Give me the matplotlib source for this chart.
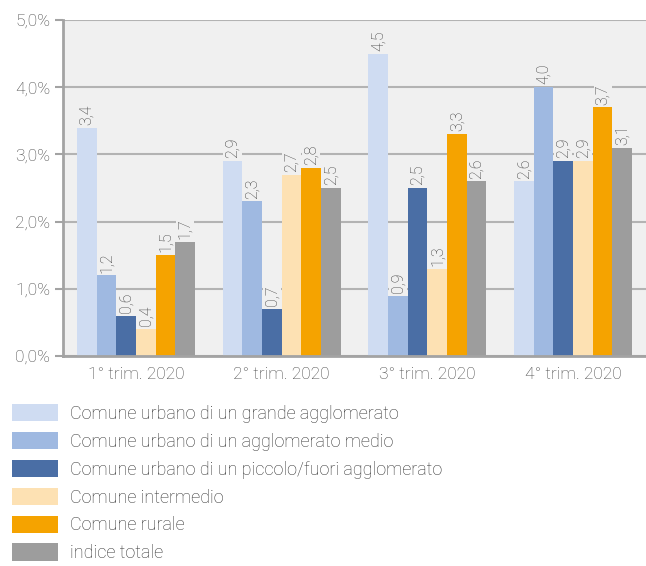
import matplotlib
matplotlib.use("Agg")
import matplotlib.pyplot as plt
from matplotlib.patches import Patch
import numpy as np

plt.rcParams['font.family'] = ['Roboto', 'DejaVu Sans']

trimestri = ["1° trim. 2020", "2° trim. 2020", "3° trim. 2020", "4° trim. 2020"]

serie = [
    "Comune urbano di un grande agglomerato",
    "Comune urbano di un agglomerato medio",
    "Comune urbano di un piccolo/fuori agglomerato",
    "Comune intermedio",
    "Comune rurale",
    "indice totale",
]

grande = [3.4, 2.9, 4.5, 2.6]
medio = [1.2, 2.3, 0.9, 4.0]
piccolo = [0.6, 0.7, 2.5, 2.9]
intermedio = [0.4, 2.7, 1.3, 2.9]
rurale = [1.5, 2.8, 3.3, 3.7]
totale = [1.7, 2.5, 2.6, 3.1]

valori = [grande, medio, piccolo, intermedio, rurale, totale]
colori = ["#cfdcf2", "#9fb9e1", "#4a6ea5", "#fde1b3", "#f5a300", "#9d9d9d"]

testo = "#444444"
griglia = "#b3b3b3"

fig = plt.figure(figsize=(6.46, 5.66), dpi=100)
ax = fig.add_axes([63/646, 1-356/566, 583/646, 336/566])
ax.set_facecolor("#f0f0f0")

x = np.arange(len(trimestri))
w = 0.135
for i, (vals, col) in enumerate(zip(valori, colori)):
    pos = x + (i - 2.5) * w
    ax.bar(pos, vals, width=w, color=col, zorder=3)
    for p, v in zip(pos, vals):
        ax.annotate(f"{v:.1f}".replace(".", ","), (p, v), xytext=(0, 2),
                    textcoords="offset points", rotation=90, ha="center", va="bottom",
                    fontsize=11.5, color="#3c3c3c", zorder=4, fontweight="light",
                    bbox=dict(boxstyle="square,pad=0.1", fc="#f0f0f0", ec="none"))

ax.set_xlim(-0.5, 3.5)
ax.set_ylim(0, 5)
ax.set_yticks([0, 1, 2, 3, 4, 5])
ax.set_yticklabels([f"{t:.1f}%".replace(".", ",") for t in range(6)])
ax.set_xticks(x)
ax.set_xticklabels(trimestri)
ax.yaxis.grid(True, color=griglia, lw=1.5, zorder=0)
ax.set_axisbelow(True)

for s in ["top", "right"]:
    ax.spines[s].set_visible(False)
for s in ["left", "bottom"]:
    ax.spines[s].set_color("#a3a3a3")
    ax.spines[s].set_linewidth(2)
    ax.spines[s].set_zorder(5)

ax.tick_params(axis="y", colors="#a3a3a3", labelcolor=testo, labelsize=12.5, length=6, width=1.5, pad=3)
ax.tick_params(axis="x", length=0, labelcolor=testo, labelsize=12.5, pad=8)
for lab in ax.get_xticklabels() + ax.get_yticklabels():
    lab.set_fontweight("light")

handles = [Patch(facecolor=c, edgecolor="none") for c in colori]
leg = fig.legend(handles, serie, loc="upper left", bbox_to_anchor=(12/646, 1-404/566),
                 frameon=False, fontsize=13, handlelength=2.55, handleheight=1.11,
                 labelspacing=0.5, handletextpad=0.67, borderpad=0, borderaxespad=0)
for t in leg.get_texts():
    t.set_color("#333333")
    t.set_fontweight("light")

fig.savefig("out.png", dpi=100)
